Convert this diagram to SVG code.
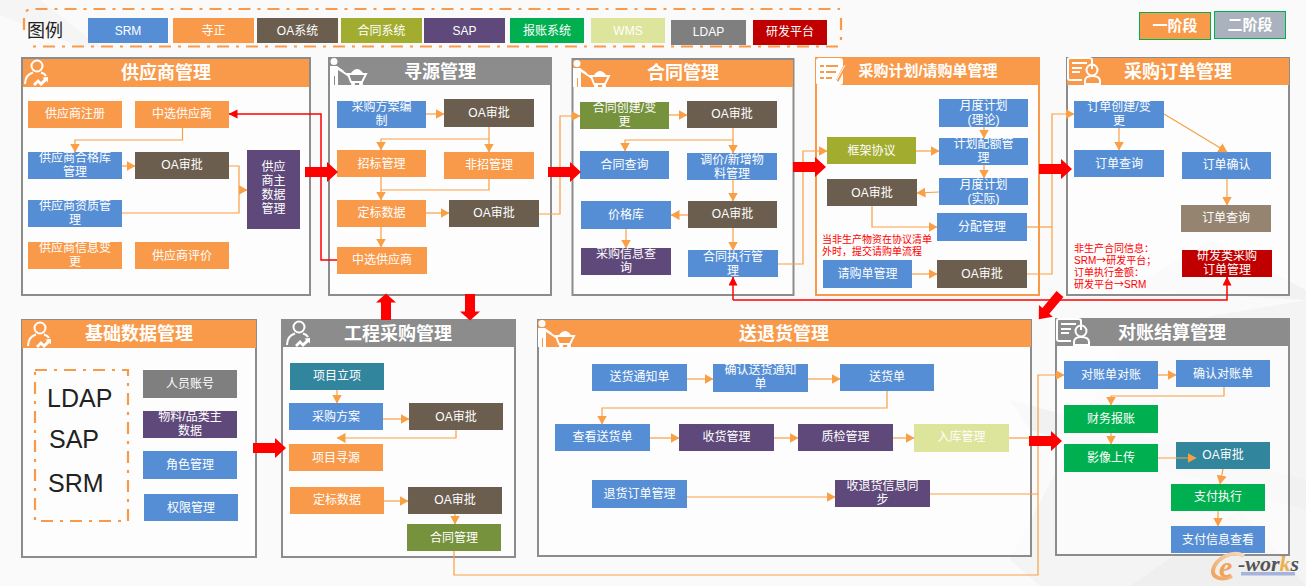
<svg xmlns="http://www.w3.org/2000/svg" width="1306" height="586" viewBox="0 0 1306 586">
<style>
text{font-family:"Liberation Sans","Noto Sans CJK SC",sans-serif}
.t{font-size:12px;fill:#fff;text-anchor:middle}
.ti{font-weight:700;font-size:18px;fill:#fff;text-anchor:middle}
.rn{font-size:10px;fill:#f00}
.big{font-size:25px;fill:#222}
.arw{font-family:"Noto Sans CJK SC",sans-serif}
.blue{fill:#558ed5}.or{fill:#f99a4a}.oa{fill:#6b5e4e}.ht{fill:#a2ad2f}.sap{fill:#5f497a}.bz{fill:#00b050}.wms{fill:#dde49c}.gr{fill:#7f7f7f}.rd{fill:#c00000}.ol{fill:#76923c}.tl{fill:#31859c}.tan{fill:#948470}
.pn{fill:#fff;fill-opacity:.6;stroke:#8c8c8c;stroke-width:2}
.po{stroke:#f99a4a}
.h1{fill:#f99a4a}.h2{fill:#8c8c8c}
.c{fill:none;stroke:#f99f45;stroke-width:1.2}
.ca{fill:none;stroke:#f99f45;stroke-width:1.2;marker-end:url(#a)}
.r{fill:none;stroke:#f00;stroke-width:1.5}
.dash{fill:none;stroke:#f99a4a;stroke-width:2.2;stroke-dasharray:12 7 3 7}
.ic{fill:none;stroke:#fff;stroke-width:2}
.if{fill:#fff}
</style>
<defs>
<marker id="a" markerUnits="userSpaceOnUse" markerWidth="9" markerHeight="11" refX="8.5" refY="5" orient="auto"><path d="M0 0L9 5L0 10Z" fill="#f99f45"/></marker>
<marker id="ar" markerUnits="userSpaceOnUse" markerWidth="9" markerHeight="11" refX="8.5" refY="4.5" orient="auto"><path d="M0 0L9 4.500L0 9Z" fill="#f00"/></marker>
<linearGradient id="eg" x1="0" y1="1" x2="1" y2="0"><stop offset="0" stop-color="#f2a25c"/><stop offset="1" stop-color="#f6d9bd"/></linearGradient>
<polygon id="bigarrow" points="0,-5 22,-5 22,-10 33,0 22,10 22,5 0,5" fill="#f00"/>
<g id="person">
<circle class="ic" cx="13" cy="7" r="5.500"/>
<path class="ic" d="M1 25C1 18 4 15 9 13.500M17 13.500C19 14 21 15 22 17"/>
<path d="M9 25L14 20L17 23L20 20L18.500 18.500L24 18V23.500L22.500 22L17 27L14 24L11 27Z" fill="#fff"/>
</g>
<g id="cart">
<circle class="if" cx="4" cy="3.500" r="3.500"/>
<path class="if" d="M0 8H7L14 13L13 15L8 12V27H5V18H4V27H0Z"/>
<path class="ic" d="M13 14L19 18"/>
<path class="ic" stroke-width="2.500" d="M18 16H36L32 24H21Z"/>
<path class="if" d="M21 15Q27 7 33 15Z"/>
<circle class="if" cx="23" cy="26" r="2"/><circle class="if" cx="31" cy="26" r="2"/>
</g>
<g id="card">
<path class="ic" d="M25 12V3Q25 1 22 1H3Q1 1 1 3V21Q1 23 3 23H15"/>
<path class="ic" stroke-width="1.500" d="M5 6H20M5 11H15M5 15H13"/>
<circle class="ic" cx="25" cy="13" r="5.500"/>
<path class="ic" d="M18 27V24Q18 19 25 19Q33 19 33 24V27Z"/>
</g>
</defs>
<rect width="1306" height="586" fill="#fafafa"/>
<g id="background">
<polygon points="0,0 0,15 80,47 100,47 40,0" fill="#f5f5f5"/>
<polygon points="1010,560 1130,330 1306,300 1306,586 1040,586" fill="#f4f4f4"/>
<polygon points="1130,586 1240,510 1306,586" fill="#efefef"/>
<polygon points="1010,400 1306,480 1306,510 1030,430" fill="#f1f1f1"/>
<polygon points="1130,290 1210,240 1306,290 1306,300" fill="#f2f2f2"/>
</g>
<g id="legend">
<path class="dash" d="M24 30V18Q24 9 33 9H840M841 18V46M838 46.500H30"/>
<text x="27" y="37" font-size="18" fill="#222">图例</text>
<rect class="blue" x="88" y="18" width="80" height="25"/><text class="t" x="128" y="35">SRM</text>
<rect class="or" x="173" y="18" width="81" height="25"/><text class="t" x="213.500" y="35">寺正</text>
<rect class="oa" x="257" y="18" width="81" height="25"/><text class="t" x="297.500" y="35">OA系统</text>
<rect class="ht" x="341" y="18" width="81" height="25"/><text class="t" x="381.500" y="35">合同系统</text>
<rect class="sap" x="424" y="18" width="81" height="25"/><text class="t" x="464.500" y="35">SAP</text>
<rect class="bz" x="510" y="18" width="74" height="25"/><text class="t" x="547" y="35">报账系统</text>
<rect class="wms" x="591" y="18" width="74" height="25"/><text class="t" x="628" y="35">WMS</text>
<rect class="gr" x="671" y="20" width="75" height="25"/><text class="t" x="708.500" y="36">LDAP</text>
<rect class="rd" x="753" y="20" width="74" height="25"/><text class="t" x="790" y="36">研发平台</text>
</g>
<g id="stage1"><rect x="1139.500" y="12.500" width="71" height="27" fill="#f99a4a" stroke="#00b050" stroke-width="1"/><text class="t" style="font-size:15px;font-weight:700" x="1175" y="31">一阶段</text></g>
<g id="stage2"><rect x="1214.500" y="11.500" width="71" height="27" fill="#aab2bd" stroke="#00b050" stroke-width="1"/><text class="t" style="font-size:15px;font-weight:700" x="1250" y="30">二阶段</text></g>

<g id="panel-supplier"><rect class="pn" x="22" y="58" width="288" height="237"/><rect class="h1" x="23" y="59" width="286" height="28"/><use href="#person" x="24" y="59"/><text class="ti" x="166" y="79">供应商管理</text></g>
<g id="panel-sourcing"><rect class="pn" x="329" y="58" width="222" height="237"/><rect class="h2" x="330" y="58" width="220" height="27"/><use href="#cart" x="330" y="58"/><text class="ti" x="440" y="78">寻源管理</text></g>
<g id="panel-contract"><rect class="pn" x="572.500" y="59" width="221" height="236"/><rect class="h1" x="573" y="60" width="220" height="27"/><use href="#cart" x="573" y="60"/><text class="ti" x="683" y="79">合同管理</text></g>
<g id="panel-plan"><rect class="pn po" x="816" y="58" width="223" height="237"/><rect class="h1" x="816" y="58" width="223" height="27"/><rect x="816" y="58" width="27" height="27" rx="3" fill="#fff"/><path d="M820 66H824M826 66H838M820 72H824M826 72H836M820 78H824M826 78H832" stroke="#f99a4a" stroke-width="2"/><path d="M837 81L845 66" stroke="#f99a4a" stroke-width="3"/><path d="M835 83L845 65" stroke="#fff" stroke-width="1"/><text class="ti" style="font-size:15px" x="928" y="76">采购计划/请购单管理</text></g>
<g id="panel-order"><rect class="pn" x="1067" y="58" width="222" height="237"/><rect class="h1" x="1067" y="58" width="222" height="27"/><use href="#card" x="1067" y="57"/><text class="ti" x="1178" y="78">采购订单管理</text></g>
<g id="panel-base"><rect class="pn" x="22" y="320" width="234" height="237"/><rect class="h1" x="22" y="320" width="234" height="28"/><use href="#person" x="27" y="321"/><text class="ti" x="139" y="340">基础数据管理</text></g>
<g id="panel-project"><rect class="pn" x="282" y="320" width="233" height="237"/><rect class="h2" x="282" y="320" width="233" height="27"/><use href="#person" x="286" y="320"/><text class="ti" x="398" y="340">工程采购管理</text></g>
<g id="panel-delivery"><rect class="pn" x="538" y="320" width="493" height="236"/><rect class="h1" x="538" y="320" width="493" height="27"/><use href="#cart" x="538" y="320"/><text class="ti" x="784" y="340">送退货管理</text></g>
<g id="panel-settle"><rect class="pn" x="1056" y="319" width="233" height="236"/><rect class="h2" x="1056" y="319" width="233" height="27"/><use href="#card" x="1056" y="318"/><text class="ti" x="1172" y="339">对账结算管理</text></g>

<g id="s1"><rect class="or" x="28" y="101" width="94" height="27"/><text class="t" x="75" y="118">供应商注册</text></g>
<g id="s2"><rect class="or" x="135" y="101" width="94" height="27"/><text class="t" x="182" y="118">中选供应商</text></g>
<g id="s3"><rect class="blue" x="28" y="152" width="94" height="27"/><text class="t" x="75" y="162">供应商合格库<tspan x="75" dy="14">管理</tspan></text></g>
<g id="s4"><rect class="oa" x="135" y="152" width="94" height="27"/><text class="t" x="182" y="169">OA审批</text></g>
<g id="s5"><rect class="sap" x="247" y="150" width="53" height="79"/><text class="t" x="273.500" y="171">供应<tspan x="273.500" dy="14">商主</tspan><tspan x="273.500" dy="14">数据</tspan><tspan x="273.500" dy="14">管理</tspan></text></g>
<g id="s6"><rect class="blue" x="28" y="200" width="94" height="27"/><text class="t" x="75" y="210">供应商资质管<tspan x="75" dy="14">理</tspan></text></g>
<g id="s7"><rect class="or" x="28" y="242" width="94" height="27"/><text class="t" x="75" y="252">供应商信息变<tspan x="75" dy="14">更</tspan></text></g>
<g id="s8"><rect class="or" x="135" y="242" width="94" height="27"/><text class="t" x="182" y="260">供应商评价</text></g>

<g id="x1"><rect class="blue" x="337" y="101" width="89" height="27"/><text class="t" x="381.500" y="111">采购方案编<tspan x="381.500" dy="14">制</tspan></text></g>
<g id="x2"><rect class="oa" x="444" y="99" width="90" height="28"/><text class="t" x="489" y="117">OA审批</text></g>
<g id="x3"><rect class="or" x="337" y="150" width="89" height="27"/><text class="t" x="381.500" y="168">招标管理</text></g>
<g id="x4"><rect class="or" x="444" y="152" width="90" height="27"/><text class="t" x="489" y="169">非招管理</text></g>
<g id="x5"><rect class="or" x="337" y="200" width="89" height="27"/><text class="t" x="381.500" y="217">定标数据</text></g>
<g id="x6"><rect class="oa" x="449" y="200" width="90" height="27"/><text class="t" x="494" y="217">OA审批</text></g>
<g id="x7"><rect class="or" x="337" y="247" width="90" height="27"/><text class="t" x="382" y="264">中选供应商</text></g>

<g id="h1"><rect class="ol" x="580" y="102" width="89" height="27"/><text class="t" x="624.500" y="112">合同创建/变<tspan x="624.500" dy="14">更</tspan></text></g>
<g id="h2"><rect class="oa" x="687" y="101" width="90" height="27"/><text class="t" x="732" y="118">OA审批</text></g>
<g id="h3"><rect class="blue" x="580" y="151" width="89" height="28"/><text class="t" x="624.500" y="169">合同查询</text></g>
<g id="h4"><rect class="blue" x="687" y="153" width="90" height="27"/><text class="t" x="732" y="164">调价/新增物<tspan x="732" dy="14">料管理</tspan></text></g>
<g id="h5"><rect class="blue" x="581" y="201" width="90" height="28"/><text class="t" x="626" y="219">价格库</text></g>
<g id="h6"><rect class="oa" x="688" y="201" width="89" height="27"/><text class="t" x="732.500" y="218">OA审批</text></g>
<g id="h7"><rect class="sap" x="581" y="248" width="90" height="27"/><text class="t" x="626" y="258">采购信息查<tspan x="626" dy="14">询</tspan></text></g>
<g id="h8"><rect class="blue" x="688" y="250" width="90" height="27"/><text class="t" x="733" y="261">合同执行管<tspan x="733" dy="14">理</tspan></text></g>

<g id="p1"><rect class="ht" x="827" y="137" width="89" height="27"/><text class="t" x="871.500" y="155">框架协议</text></g>
<g id="p2"><rect class="blue" x="939" y="99" width="89" height="28"/><text class="t" x="983.500" y="110">月度计划<tspan x="983.500" dy="14">(理论)</tspan></text></g>
<g id="p3"><rect class="blue" x="939" y="138" width="89" height="27"/><text class="t" x="983.500" y="148">计划配额管<tspan x="983.500" dy="14">理</tspan></text></g>
<g id="p4"><rect class="blue" x="939" y="178" width="89" height="27"/><text class="t" x="983.500" y="189">月度计划<tspan x="983.500" dy="14">(实际)</tspan></text></g>
<g id="p5"><rect class="oa" x="827" y="179" width="90" height="27"/><text class="t" x="872" y="197">OA审批</text></g>
<g id="p6"><rect class="blue" x="937" y="213" width="90" height="28"/><text class="t" x="982" y="231">分配管理</text></g>
<g id="p7"><rect class="blue" x="823" y="260" width="89" height="28"/><text class="t" x="867.500" y="278">请购单管理</text></g>
<g id="p8"><rect class="oa" x="937" y="260" width="90" height="28"/><text class="t" x="982" y="278">OA审批</text></g>
<text class="rn" x="822" y="243">当非生产物资在协议清单</text>
<text class="rn" x="822" y="255">外时，提交请购单流程</text>

<g id="o1"><rect class="blue" x="1074" y="101" width="90" height="27"/><text class="t" x="1119" y="111">订单创建/变<tspan x="1119" dy="14">更</tspan></text></g>
<g id="o2"><rect class="blue" x="1074" y="150" width="90" height="27"/><text class="t" x="1119" y="168">订单查询</text></g>
<g id="o3"><rect class="blue" x="1182" y="152" width="89" height="27"/><text class="t" x="1226.500" y="169">订单确认</text></g>
<g id="o4"><rect class="tan" x="1181" y="205" width="90" height="27"/><text class="t" x="1226" y="222">订单查询</text></g>
<g id="o5"><rect class="rd" x="1182" y="250" width="90" height="27"/><text class="t" x="1227" y="260">研发类采购<tspan x="1227" dy="14">订单管理</tspan></text></g>
<text class="rn" x="1074" y="252">非生产合同信息：</text>
<text class="rn" x="1074" y="264">SRM<tspan class="arw">→</tspan>研发平台；</text>
<text class="rn" x="1074" y="276">订单执行金额：</text>
<text class="rn" x="1074" y="288">研发平台<tspan class="arw">→</tspan>SRM</text>

<g id="base-systems"><rect class="dash" x="35" y="370" width="93" height="151"/><text class="big" x="47" y="407">LDAP</text><text class="big" x="49" y="448">SAP</text><text class="big" x="48" y="492">SRM</text></g>
<g id="b1"><rect class="gr" x="143" y="370" width="94" height="28"/><text class="t" x="190" y="388">人员账号</text></g>
<g id="b2"><rect class="sap" x="143" y="411" width="94" height="27"/><text class="t" x="190" y="421">物料/品类主<tspan x="190" dy="14">数据</tspan></text></g>
<g id="b3"><rect class="blue" x="143" y="451" width="94" height="28"/><text class="t" x="190" y="469">角色管理</text></g>
<g id="b4"><rect class="blue" x="144" y="494" width="94" height="27"/><text class="t" x="191" y="512">权限管理</text></g>

<g id="e1"><rect class="tl" x="290" y="363" width="94" height="27"/><text class="t" x="337" y="380">项目立项</text></g>
<g id="e2"><rect class="blue" x="289" y="403" width="94" height="27"/><text class="t" x="336" y="421">采购方案</text></g>
<g id="e3"><rect class="oa" x="409" y="403" width="94" height="27"/><text class="t" x="456" y="421">OA审批</text></g>
<g id="e4"><rect class="or" x="289" y="444" width="94" height="27"/><text class="t" x="336" y="462">项目寻源</text></g>
<g id="e5"><rect class="or" x="290" y="487" width="94" height="27"/><text class="t" x="337" y="504">定标数据</text></g>
<g id="e6"><rect class="oa" x="408" y="487" width="94" height="27"/><text class="t" x="455" y="504">OA审批</text></g>
<g id="e7"><rect class="ol" x="407" y="524" width="94" height="27"/><text class="t" x="454" y="542">合同管理</text></g>

<g id="d1"><rect class="blue" x="592" y="364" width="95" height="27"/><text class="t" x="639.500" y="381">送货通知单</text></g>
<g id="d2"><rect class="blue" x="713" y="364" width="95" height="28"/><text class="t" x="760.500" y="374">确认送货通知<tspan x="760.500" dy="14">单</tspan></text></g>
<g id="d3"><rect class="blue" x="840" y="364" width="94" height="27"/><text class="t" x="887" y="381">送货单</text></g>
<g id="d4"><rect class="blue" x="555" y="424" width="95" height="27"/><text class="t" x="602.500" y="441">查看送货单</text></g>
<g id="d5"><rect class="sap" x="679" y="424" width="95" height="27"/><text class="t" x="726.500" y="441">收货管理</text></g>
<g id="d6"><rect class="sap" x="798" y="424" width="95" height="27"/><text class="t" x="845.500" y="441">质检管理</text></g>
<g id="d7"><rect class="wms" x="914" y="424" width="95" height="28"/><text class="t" x="961.500" y="441">入库管理</text></g>
<g id="d8"><rect class="blue" x="592" y="480" width="95" height="28"/><text class="t" x="639.500" y="498">退货订单管理</text></g>
<g id="d9"><rect class="sap" x="835" y="480" width="95" height="27"/><text class="t" x="882.500" y="490">收退货信息同<tspan x="882.500" dy="14">步</tspan></text></g>

<g id="j1"><rect class="blue" x="1064" y="361" width="94" height="28"/><text class="t" x="1111" y="379">对账单对账</text></g>
<g id="j2"><rect class="blue" x="1176" y="360" width="94" height="27"/><text class="t" x="1223" y="378">确认对账单</text></g>
<g id="j3"><rect class="bz" x="1064" y="405" width="94" height="28"/><text class="t" x="1111" y="423">财务报账</text></g>
<g id="j4"><rect class="bz" x="1064" y="444" width="94" height="28"/><text class="t" x="1111" y="462">影像上传</text></g>
<g id="j5"><rect class="tl" x="1176" y="442" width="94" height="27"/><text class="t" x="1223" y="459">OA审批</text></g>
<g id="j6"><rect class="bz" x="1171" y="484" width="94" height="27"/><text class="t" x="1218" y="501">支付执行</text></g>
<g id="j7"><rect class="blue" x="1171" y="526" width="94" height="27"/><text class="t" x="1218" y="544">支付信息查看</text></g>

<g id="connectors">
<path class="ca" d="M182.500 128V140H75V152"/>
<path class="ca" d="M122 166H135"/>
<path class="c" d="M229 166H239V213H122"/>
<path class="ca" d="M239 190H247"/>
<path class="ca" d="M426 114H444"/>
<path class="ca" d="M489 127V152"/>
<path class="ca" d="M489 139H381V150"/>
<path class="ca" d="M381 177V200"/>
<path class="c" d="M489 179V190H381"/>
<path class="ca" d="M426 213H449"/>
<path class="ca" d="M381 227V247"/>
<path class="ca" d="M539 214H560V116H580"/>
<path class="ca" d="M669 115H687"/>
<path class="ca" d="M733 128V153"/>
<path class="ca" d="M733 140H625V151"/>
<path class="ca" d="M733 180V201"/>
<path class="ca" d="M688 215H671"/>
<path class="ca" d="M626 229V248"/>
<path class="ca" d="M733 228V250"/>
<path class="ca" d="M778 264H803V151H827"/>
<path class="ca" d="M916 151H939"/>
<path class="ca" d="M984 127V138"/>
<path class="ca" d="M984 165V178"/>
<path class="ca" d="M939 192L917 193"/>
<path class="ca" d="M872 206V227H937"/>
<path class="ca" d="M912 274H937"/>
<path class="c" d="M1027 227H1052"/>
<path class="ca" d="M1027 274H1052V114H1074"/>
<path class="ca" d="M1119 128V150"/>
<path class="ca" d="M1164 114L1227 152"/>
<path class="ca" d="M1227 179V205"/>
<path class="ca" d="M337 390V403"/>
<path class="ca" d="M383 419H409"/>
<path class="ca" d="M456 430V438H337"/>
<path class="ca" d="M384 501H408"/>
<path class="ca" d="M455 514V524"/>
<path class="ca" d="M454 551V575H1038V375H1064"/>
<path class="ca" d="M687 379H713"/>
<path class="ca" d="M808 379H840"/>
<path class="ca" d="M887 391V408H602V424"/>
<path class="ca" d="M650 438H679"/>
<path class="ca" d="M774 438H798"/>
<path class="ca" d="M893 438H914"/>
<path class="c" d="M1009 438H1038"/>
<path class="ca" d="M687 497H835"/>
<path class="c" d="M930 494H1038"/>
<path class="ca" d="M1158 375H1176"/>
<path class="ca" d="M1224 387V396H1111V405"/>
<path class="ca" d="M1111 433V444"/>
<path class="ca" d="M1158 458H1196"/>
<path class="ca" d="M1223 469L1220 484"/>
<path class="ca" d="M1218 511V526"/>
<path class="r" marker-end="url(#ar)" d="M337 260H321V114H229"/>
<path class="r" marker-end="url(#ar)" d="M733 300V277"/>
<path class="r" marker-end="url(#ar)" d="M733 300H1227V277"/>
<use href="#bigarrow" x="305" y="172"/>
<use href="#bigarrow" x="548" y="172"/>
<use href="#bigarrow" x="793" y="167"/>
<use href="#bigarrow" x="1039" y="169"/>
<use href="#bigarrow" x="253" y="448"/>
<use href="#bigarrow" x="1029" y="441"/>
<use href="#bigarrow" transform="translate(386,320) rotate(-90) scale(.8,1)"/>
<use href="#bigarrow" transform="translate(470,294) rotate(90) scale(.8,1)"/>
<use href="#bigarrow" transform="translate(1060,294) rotate(130) scale(1,.9)"/>
</g>
<g id="logo">
<rect x="1241" y="572" width="54" height="3.500" fill="#a6b4dc"/>
<path d="M1244 556C1232 550 1216 558 1213 570C1212 578 1222 581 1232 576" fill="none" stroke="url(#eg)" stroke-width="4"/>
<text x="1219" y="577" font-style="italic" font-weight="700" font-size="30" fill="#f2a25c" style="font-family:'Liberation Serif',serif">e</text>
<text x="1238" y="571" font-style="italic" font-weight="700" font-size="22" fill="#555" style="font-family:'Liberation Serif',serif">-wor<tspan fill="#eeb04a">k</tspan>s</text>
</g>
</svg>
